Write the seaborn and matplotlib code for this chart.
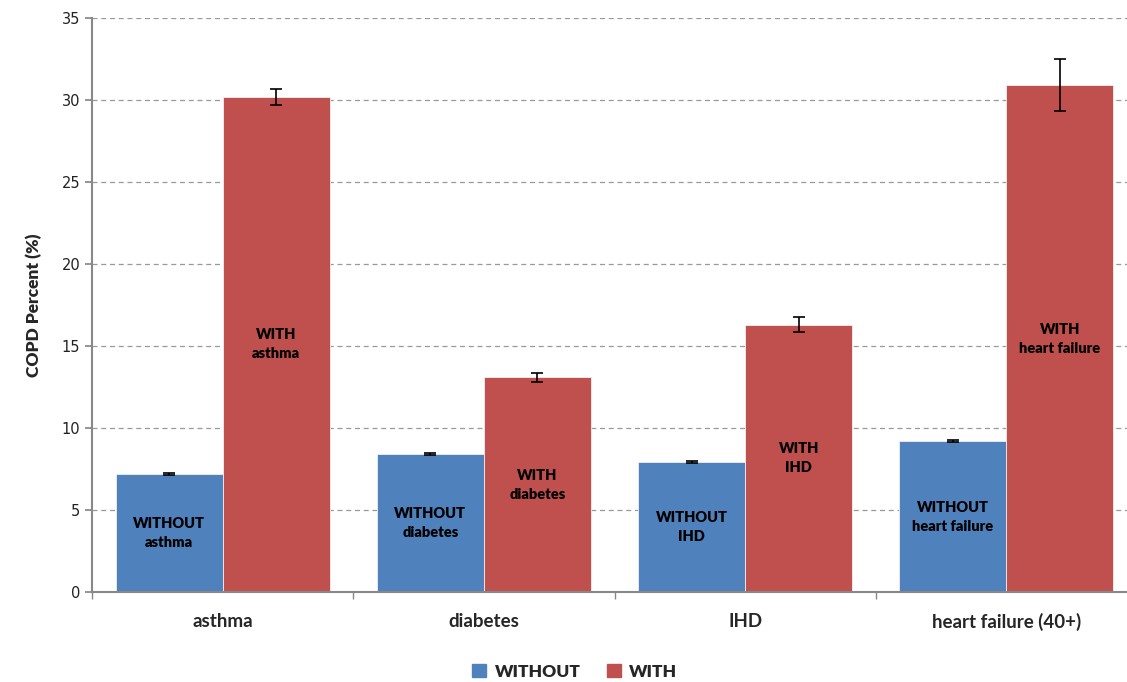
import numpy as np
import pandas as pd
import matplotlib
matplotlib.use("Agg")
import matplotlib.pyplot as plt
import seaborn as sns

# ---------- Data ----------
categories = ["asthma", "diabetes", "IHD", "heart failure (40+)"]
short_names = ["asthma", "diabetes", "IHD", "heart failure"]
groups = ["WITHOUT", "WITH"]
without_vals = [7.2, 8.4, 7.9, 9.2]
without_err = [0.05, 0.07, 0.06, 0.08]
with_vals = [30.2, 13.1, 16.3, 30.9]
with_err = [0.5, 0.28, 0.47, 1.6]

df = pd.DataFrame({
    "condition": categories * 2,
    "group": ["WITHOUT"] * 4 + ["WITH"] * 4,
    "value": without_vals + with_vals,
    "err": without_err + with_err,
    "label": [f"WITHOUT\n{n}" for n in short_names] + [f"WITH\n{n}" for n in short_names],
})

sns.set_theme(style="white")
plt.rcParams["font.family"] = ["Lato", "DejaVu Sans"]

palette = {"WITHOUT": "#4F81BD", "WITH": "#C0504D"}

fig = plt.figure(figsize=(11.27, 6.82), dpi=100)
ax = fig.add_axes([92 / 1127, 90 / 682, 1045 / 1127, 574 / 682])

sns.barplot(data=df, x="condition", y="value", hue="group", order=categories,
            hue_order=groups, palette=palette, width=0.82, gap=0, errorbar=None,
            saturation=1, edgecolor="#f0f0f0", linewidth=0.6, ax=ax, zorder=2)

# error bars and in-bar labels, in patch order (hue-major)
bars = [p for p in ax.patches if p.get_height() > 0]
for p, (_, row) in zip(bars, df.iterrows()):
    xc = p.get_x() + p.get_width() / 2
    h = p.get_height()
    ax.errorbar(xc, h, yerr=row["err"], fmt="none", ecolor="black",
                elinewidth=1.2, capsize=4, capthick=1.2, zorder=3)
    ax.text(xc, h / 2, row["label"], ha="center", va="center",
            fontsize=10.5, fontweight="heavy", color="black", linespacing=1.55)

ax.set_xlim(-0.5, 3.5)
ax.set_ylim(0, 35)
ax.set_yticks(np.arange(0, 36, 5))
ax.yaxis.grid(True, linestyle=(0, (4, 3)), color="#999999", linewidth=0.9, zorder=0)
ax.set_axisbelow(True)

ax.set_xlabel("")
ax.set_ylabel("COPD Percent (%)", fontsize=12.5, fontweight="heavy", labelpad=14)
ax.set_xticks(range(len(categories)))
ax.set_xticklabels(categories, fontsize=13.5, fontweight="bold")
ax.tick_params(axis="x", length=0, pad=15)
ax.tick_params(axis="y", labelsize=10.5, length=5, color="#888888", direction="out",
               labelcolor="#222222", left=True)
for lbl in ax.get_yticklabels():
    lbl.set_family(["DejaVu Sans"])

# minor ticks at group boundaries on x axis
ax.set_xticks(np.arange(-0.5, 3.6, 1), minor=True)
ax.tick_params(axis="x", which="minor", length=5, color="#888888", direction="out", bottom=True)

for s in ["top", "right"]:
    ax.spines[s].set_visible(False)
for s in ["left", "bottom"]:
    ax.spines[s].set_color("#888888")
    ax.spines[s].set_linewidth(1.5)

ax.legend_.remove()
handles = [plt.Rectangle((0, 0), 1, 1, color=palette[g]) for g in groups]
fig.legend(handles, groups, loc="center", bbox_to_anchor=(0.51, 0.015),
           ncol=2, frameon=False, prop={"weight": "heavy", "size": 12.5},
           handlelength=0.8, handleheight=0.8, columnspacing=1.5, handletextpad=0.5)

fig.savefig("out.png", dpi=100)
